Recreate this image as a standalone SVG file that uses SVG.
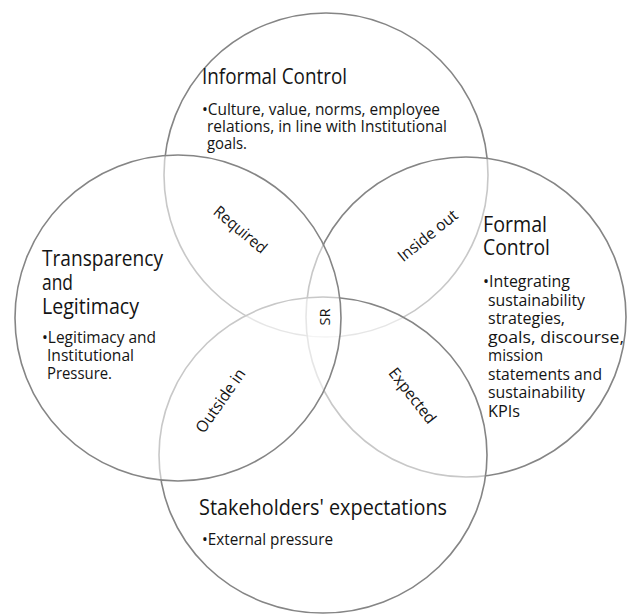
<svg xmlns="http://www.w3.org/2000/svg" width="627" height="614" viewBox="0 0 627 614">
<style>
.c{fill:#ffffff;fill-opacity:0.55;stroke:#858585;stroke-width:1.6}
text{font-family:"Open Sans","Noto Sans","Liberation Sans",sans-serif;fill:#141414}
.t{font-size:22px}
.b{font-size:16px}
.l{font-size:16px;text-anchor:middle}
</style>
<rect width="627" height="614" fill="#ffffff"/>
<g id="informal-control">
<circle class="c" cx="326" cy="175" r="162"/>
<text class="t" x="202" y="84" textLength="145" lengthAdjust="spacingAndGlyphs">Informal Control</text>
<text class="b" x="202" y="115" textLength="238" lengthAdjust="spacingAndGlyphs">•Culture, value, norms, employee</text>
<text class="b" x="207" y="132" textLength="240" lengthAdjust="spacingAndGlyphs">relations, in line with Institutional</text>
<text class="b" x="207" y="149" textLength="40" lengthAdjust="spacingAndGlyphs">goals.</text>
</g>
<g id="formal-control">
<circle class="c" cx="466" cy="317" r="160"/>
<text class="t" x="483" y="232" textLength="64" lengthAdjust="spacingAndGlyphs">Formal</text>
<text class="t" x="483" y="255" textLength="67" lengthAdjust="spacingAndGlyphs">Control</text>
<text class="b" x="483" y="287" textLength="87" lengthAdjust="spacingAndGlyphs">•Integrating</text>
<text class="b" x="488" y="305.5" textLength="97" lengthAdjust="spacingAndGlyphs">sustainability</text>
<text class="b" x="488" y="324" textLength="77" lengthAdjust="spacingAndGlyphs">strategies,</text>
<text class="b" x="488" y="342.5" textLength="136" lengthAdjust="spacingAndGlyphs">goals, discourse,</text>
<text class="b" x="488" y="361" textLength="55" lengthAdjust="spacingAndGlyphs">mission</text>
<text class="b" x="488" y="379.5" textLength="114" lengthAdjust="spacingAndGlyphs">statements and</text>
<text class="b" x="488" y="398" textLength="97" lengthAdjust="spacingAndGlyphs">sustainability</text>
<text class="b" x="488" y="416.5" textLength="32" lengthAdjust="spacingAndGlyphs">KPIs</text>
</g>
<g id="stakeholders-expectations">
<ellipse class="c" cx="323" cy="455" rx="164" ry="158"/>
<text class="t" x="199" y="515" textLength="248" lengthAdjust="spacingAndGlyphs">Stakeholders' expectations</text>
<text class="b" x="202" y="545" textLength="131" lengthAdjust="spacingAndGlyphs">•External pressure</text>
</g>
<g id="transparency-legitimacy">
<circle class="c" cx="178" cy="318" r="163"/>
<text class="t" x="42" y="266" textLength="121" lengthAdjust="spacingAndGlyphs">Transparency</text>
<text class="t" x="42" y="290" textLength="31" lengthAdjust="spacingAndGlyphs">and</text>
<text class="t" x="42" y="314" textLength="97" lengthAdjust="spacingAndGlyphs">Legitimacy</text>
<text class="b" x="42" y="343" textLength="114" lengthAdjust="spacingAndGlyphs">•Legitimacy and</text>
<text class="b" x="47" y="361" textLength="87" lengthAdjust="spacingAndGlyphs">Institutional</text>
<text class="b" x="47" y="379" textLength="65" lengthAdjust="spacingAndGlyphs">Pressure.</text>
</g>
<g id="overlap-labels">
<g id="required"><text class="l" transform="translate(240,230) rotate(40)" x="0" y="5" textLength="64" lengthAdjust="spacingAndGlyphs">Required</text></g>
<g id="inside-out"><text class="l" transform="translate(428,236) rotate(-39)" x="0" y="5" textLength="72" lengthAdjust="spacingAndGlyphs">Inside out</text></g>
<g id="outside-in"><text class="l" transform="translate(221,401) rotate(-55)" x="0" y="5" textLength="74" lengthAdjust="spacingAndGlyphs">Outside in</text></g>
<g id="expected"><text class="l" transform="translate(412,396) rotate(52)" x="0" y="5" textLength="66" lengthAdjust="spacingAndGlyphs">Expected</text></g>
<g id="sr"><text class="l" style="font-size:15px" transform="translate(325,317) rotate(-90)" x="0" y="5" textLength="17" lengthAdjust="spacingAndGlyphs">SR</text></g>
</g>
<g id="connectors"/>
</svg>
